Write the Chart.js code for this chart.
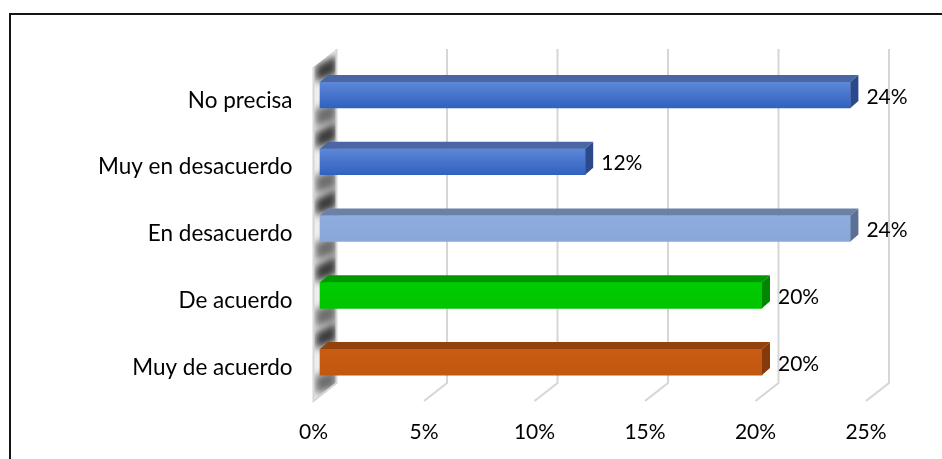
<!DOCTYPE html>
<html>
<head>
<meta charset="utf-8">
<script src="https://cdn.jsdelivr.net/npm/chart.js@4.4.0/dist/chart.umd.min.js"></script>
<style>
  html, body { margin: 0; padding: 0; background: #fff; }
</style>
</head>
<body>
<canvas id="grafico" width="942" height="459"></canvas>
<script>
// datos
const categorias = ['No precisa', 'Muy en desacuerdo', 'En desacuerdo', 'De acuerdo', 'Muy de acuerdo'];
const porcentajes = [24, 12, 24, 20, 20];
const marcasX = [0, 5, 10, 15, 20, 25];

// colores de cada barra: frente (claro/oscuro), tapa y lateral
const colores = [
  { claro: '#5d88d8', oscuro: '#3161c0', tapa: '#4a66a4', lado: '#2b4a8c' },
  { claro: '#5d88d8', oscuro: '#3161c0', tapa: '#4a66a4', lado: '#2b4a8c' },
  { claro: '#8facde', oscuro: '#8aa7d9', tapa: '#6d81a8', lado: '#5c6f95' },
  { claro: '#00cc00', oscuro: '#00c400', tapa: '#009800', lado: '#008600' },
  { claro: '#c85c12', oscuro: '#c2570f', tapa: '#94420b', lado: '#86390a' }
];

const FUENTE = { family: 'Lato', size: 21 };
const FUENTE_CAT = { family: 'Lato', size: 22.5 };
const PROF = { dx: 23, dy: -18 };   // plano del fondo
const BARRA = { dx: 6.5, dy: -5.5 }; // cara frontal de las barras
const CUBO = { dx: 8, dy: -7 };      // grosor de la barra
const GRUESO = 26;

function degradado(ctx, chart, i) {
  const y = chart.scales.y;
  if (!y || y.top === undefined) return colores[i].claro;
  const c = y.getPixelForValue(i);
  const g = ctx.createLinearGradient(0, c - GRUESO / 2, 0, c + GRUESO / 2);
  g.addColorStop(0, colores[i].claro);
  g.addColorStop(1, colores[i].oscuro);
  return g;
}

const efecto3d = {
  id: 'efecto3d',
  beforeDraw(chart) {
    const ctx = chart.ctx;
    ctx.save();
    ctx.fillStyle = '#fff';
    ctx.fillRect(0, 0, chart.width, chart.height);
    // marco
    ctx.fillStyle = '#151515';
    ctx.fillRect(9, 13, 2, chart.height - 13);
    ctx.fillRect(9, 13, chart.width - 9, 2);
    ctx.restore();
  },
  beforeDatasetsDraw(chart) {
    const ctx = chart.ctx;
    const a = chart.chartArea;
    const sx = chart.scales.x, sy = chart.scales.y;
    const x0 = sx.getPixelForValue(0);

    // pared izquierda con las sombras de las barras
    ctx.save();
    ctx.beginPath();
    ctx.moveTo(x0, a.top);
    ctx.lineTo(x0 + PROF.dx, a.top + PROF.dy);
    ctx.lineTo(x0 + PROF.dx, a.bottom + PROF.dy);
    ctx.lineTo(x0, a.bottom);
    ctx.closePath();
    ctx.fillStyle = '#eeeeee';
    ctx.fill();
    ctx.clip();
    ctx.filter = 'blur(3.5px)';
    categorias.forEach((c, i) => {
      const yc = sy.getPixelForValue(i) + BARRA.dy;
      const ft = yc - GRUESO / 2, fb = yc + GRUESO / 2;
      ctx.fillStyle = 'rgba(40,40,40,0.9)';
      ctx.beginPath();
      ctx.moveTo(x0 + 2, ft - 16);
      ctx.lineTo(x0 + 23, ft - 27);
      ctx.lineTo(x0 + 23, ft - 8);
      ctx.lineTo(x0 + 2, ft);
      ctx.fill();
      ctx.fillStyle = 'rgba(55,55,55,0.7)';
      ctx.beginPath();
      ctx.moveTo(x0 + 2, fb + 1);
      ctx.lineTo(x0 + 23, fb - 6);
      ctx.lineTo(x0 + 23, fb + 12);
      ctx.lineTo(x0 + 2, fb + 19);
      ctx.fill();
    });
    ctx.restore();

    // rejilla del fondo con sus pies hacia el frente
    ctx.save();
    ctx.strokeStyle = '#d6d6d6';
    ctx.lineWidth = 2;
    marcasX.forEach(v => {
      const x = sx.getPixelForValue(v);
      ctx.beginPath();
      ctx.moveTo(x + PROF.dx, a.top + PROF.dy);
      ctx.lineTo(x + PROF.dx, a.bottom + PROF.dy);
      ctx.lineTo(x, a.bottom);
      if (v === 0) ctx.lineTo(x, a.top);
      ctx.stroke();
    });
    ctx.restore();

    ctx.save();
    ctx.translate(BARRA.dx, BARRA.dy);
  },
  afterDatasetsDraw(chart) {
    const ctx = chart.ctx;
    ctx.restore();
    const meta = chart.getDatasetMeta(0);
    ctx.save();
    meta.data.forEach((el, i) => {
      const p = el.getProps(['x', 'y', 'base', 'height'], true);
      const xa = p.base + BARRA.dx, xb = p.x + BARRA.dx;
      const yt = p.y - p.height / 2 + BARRA.dy, yb = p.y + p.height / 2 + BARRA.dy;
      // tapa
      ctx.fillStyle = colores[i].tapa;
      ctx.beginPath();
      ctx.moveTo(xa, yt);
      ctx.lineTo(xb, yt);
      ctx.lineTo(xb + CUBO.dx, yt + CUBO.dy);
      ctx.lineTo(xa + CUBO.dx, yt + CUBO.dy);
      ctx.closePath();
      ctx.fill();
      // lateral
      ctx.fillStyle = colores[i].lado;
      ctx.beginPath();
      ctx.moveTo(xb, yt);
      ctx.lineTo(xb + CUBO.dx, yt + CUBO.dy);
      ctx.lineTo(xb + CUBO.dx, yb + CUBO.dy);
      ctx.lineTo(xb, yb);
      ctx.closePath();
      ctx.fill();
      // etiqueta de valor
      ctx.fillStyle = '#000';
      ctx.font = FUENTE.size + 'px ' + FUENTE.family;
      ctx.textAlign = 'left';
      ctx.textBaseline = 'middle';
      ctx.fillText(porcentajes[i] + '%', xb + 16, p.y + BARRA.dy + 2);
    });
    ctx.restore();
  }
};

new Chart(document.getElementById('grafico'), {
  type: 'bar',
  data: {
    labels: categorias,
    datasets: [{
      data: porcentajes,
      backgroundColor: (c) => degradado(c.chart.ctx, c.chart, c.dataIndex),
      borderWidth: 0,
      barThickness: GRUESO,
      clip: false
    }]
  },
  options: {
    indexAxis: 'y',
    responsive: false,
    animation: false,
    layout: { padding: { top: 67, right: 76, left: 0, bottom: 0 } },
    plugins: { legend: { display: false }, tooltip: { enabled: false } },
    scales: {
      x: {
        min: 0,
        max: 25,
        afterFit: (s) => { s.height = 58; },
        grid: { display: false },
        border: { display: false },
        ticks: {
          stepSize: 5,
          padding: 11,
          color: '#000',
          font: FUENTE,
          callback: (v) => v + '%'
        }
      },
      y: {
        afterFit: (s) => { s.width = 313.5; },
        grid: { display: false },
        border: { display: false },
        ticks: { padding: 13, color: '#000', font: FUENTE_CAT }
      }
    }
  },
  plugins: [efecto3d]
});
</script>
</body>
</html>
